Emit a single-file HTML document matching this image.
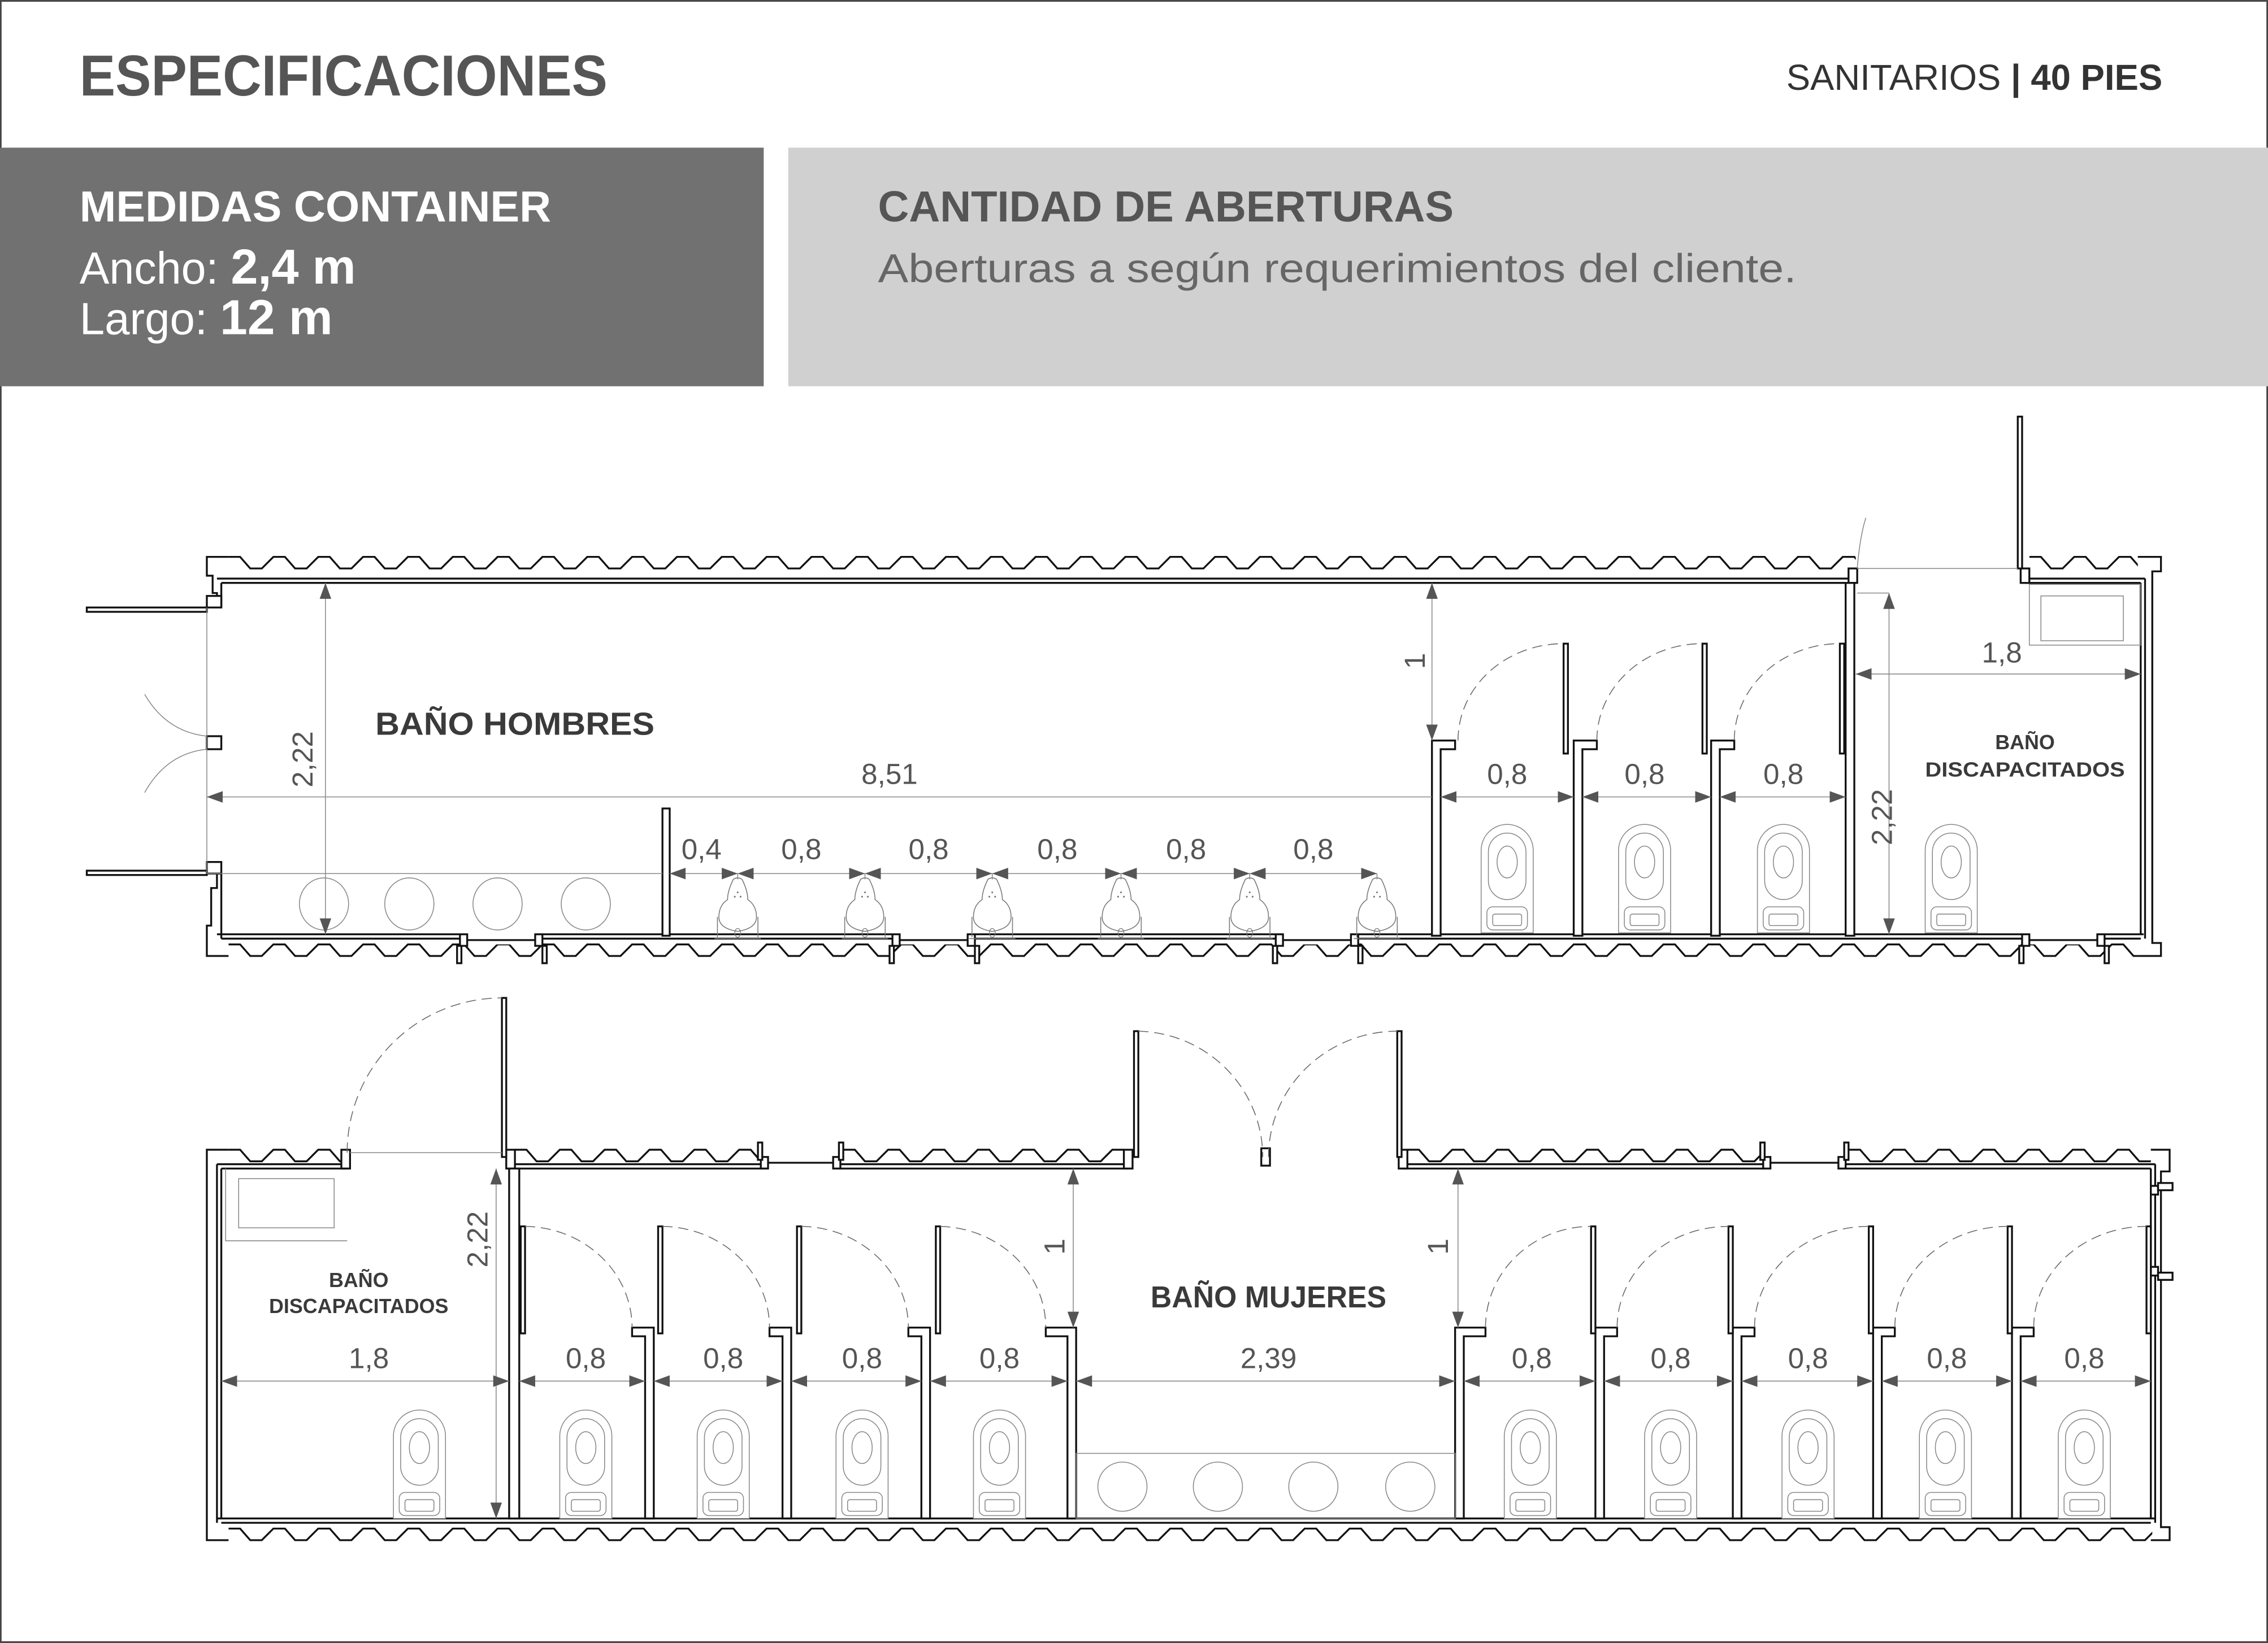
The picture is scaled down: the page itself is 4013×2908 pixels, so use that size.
<!DOCTYPE html>
<html><head><meta charset="utf-8">
<style>
html,body{margin:0;padding:0;background:#fff;}
svg{display:block;}
.w{fill:#fff;stroke:#111;stroke-width:1.3;}
.wl{fill:none;stroke:#111;stroke-width:1.3;}
.t{fill:none;stroke:#888;stroke-width:.6;}
.d{fill:none;stroke:#666;stroke-width:.6;stroke-dasharray:7 4;}
.dim{font-family:"Liberation Sans",sans-serif;font-size:20px;fill:#555;text-anchor:middle;}
.lab{font-family:"Liberation Sans",sans-serif;font-weight:bold;fill:#3a3a3a;text-anchor:middle;}
</style></head>
<body>
<svg width="4013" height="2908" viewBox="0 0 1568 1136" xmlns="http://www.w3.org/2000/svg">
<defs>
<path id="cw" fill="none" stroke="#111" stroke-width="1.3" d="M0 1 h8l7 8h8l8-8 h8l7 8h8l8-8 h8l7 8h8l8-8 h8l7 8h8l8-8 h8l7 8h8l8-8 h8l7 8h8l8-8 h8l7 8h8l8-8 h8l7 8h8l8-8 h8l7 8h8l8-8 h8l7 8h8l8-8 h8l7 8h8l8-8 h8l7 8h8l8-8 h8l7 8h8l8-8 h8l7 8h8l8-8 h8l7 8h8l8-8 h8l7 8h8l8-8 h8l7 8h8l8-8 h8l7 8h8l8-8 h8l7 8h8l8-8 h8l7 8h8l8-8 h8l7 8h8l8-8 h8l7 8h8l8-8 h8l7 8h8l8-8 h8l7 8h8l8-8 h8l7 8h8l8-8 h8l7 8h8l8-8 h8l7 8h8l8-8 h8l7 8h8l8-8 h8l7 8h8l8-8 h8l7 8h8l8-8 h8l7 8h8l8-8 h8l7 8h8l8-8 h8l7 8h8l8-8 h8l7 8h8l8-8 h8l7 8h8l8-8 h8l7 8h8l8-8 h8l7 8h8l8-8 h8l7 8h8l8-8 h8l7 8h8l8-8 h8l7 8h8l8-8 h8l7 8h8l8-8 h8l7 8h8l8-8 h8l7 8h8l8-8 h8l7 8h8l8-8 h8l7 8h8l8-8"/>
<clipPath id="c1"><rect x="158" y="380" width="1125" height="20"/></clipPath>
<clipPath id="c2"><rect x="1403" y="380" width="75" height="20"/></clipPath>
<clipPath id="c3"><rect x="158" y="648" width="1320" height="20"/></clipPath>
<clipPath id="c4"><rect x="158" y="790" width="78" height="20"/></clipPath>
<clipPath id="c5"><rect x="356" y="790" width="168" height="20"/></clipPath>
<clipPath id="c6"><rect x="583" y="790" width="194" height="20"/></clipPath>
<clipPath id="c7"><rect x="973" y="790" width="244" height="20"/></clipPath>
<clipPath id="c8"><rect x="1278" y="790" width="209" height="20"/></clipPath>
<clipPath id="c9"><rect x="158" y="1052" width="1330" height="20"/></clipPath>
<marker id="ar" markerUnits="userSpaceOnUse" markerWidth="12" markerHeight="8" refX="11" refY="4" orient="auto-start-reverse">
<path d="M0 0 L11 4 L0 8z" fill="#555"/>
</marker>
<symbol id="wc" overflow="visible">
<path d="M-18 75 V18 A18 18 0 0 1 18 18 V75 Z" fill="#fff" stroke="#888" stroke-width=".6"/>
<rect x="-13" y="6" width="26" height="46" rx="13" fill="none" stroke="#888" stroke-width=".6"/>
<ellipse cx="0" cy="26" rx="7" ry="11" fill="none" stroke="#888" stroke-width=".6"/>
<rect x="-14" y="57" width="28" height="16" rx="4" fill="none" stroke="#888" stroke-width=".6"/>
<rect x="-10" y="62" width="20" height="8" rx="1.5" fill="none" stroke="#888" stroke-width=".6"/>
</symbol>
<symbol id="ur" overflow="visible">
<path d="M-3 0 Q0 -2 3 0 Q7 8 7 14 Q13 18 13 26 Q13 34 0 36 Q-13 34 -13 26 Q-13 18 -7 14 Q-7 8 -3 0 Z" fill="none" stroke="#777" stroke-width=".6"/>
<path d="M-14 40 V26 M14 40 V26 M-16 41 H16" fill="none" stroke="#777" stroke-width=".6"/>
<ellipse cx="0" cy="37" rx="2" ry="3" fill="none" stroke="#777" stroke-width=".5"/>
<circle cx="0" cy="9" r=".6" fill="#777"/><circle cx="-2" cy="12" r=".6" fill="#777"/><circle cx="2" cy="12" r=".6" fill="#777"/>
</symbol>
</defs>

<rect x="0.5" y="0.5" width="1567" height="1135" fill="#fff" stroke="#444" stroke-width="1.2"/>

<!-- header -->
<text x="55" y="66" font-family="Liberation Sans,sans-serif" font-weight="bold" font-size="40" fill="#555" textLength="365" lengthAdjust="spacingAndGlyphs">ESPECIFICACIONES</text>
<text x="1235" y="62" font-family="Liberation Sans,sans-serif" font-size="25" fill="#333" textLength="260" lengthAdjust="spacingAndGlyphs">SANITARIOS <tspan font-weight="bold">| 40 PIES</tspan></text>

<rect x="0" y="102" width="528" height="165" fill="#717171"/>
<rect x="545" y="102" width="1023" height="165" fill="#d0d0d0"/>
<text x="55" y="153" font-family="Liberation Sans,sans-serif" font-weight="bold" font-size="30" fill="#fff" textLength="326" lengthAdjust="spacingAndGlyphs">MEDIDAS CONTAINER</text>
<text x="55" y="196" font-family="Liberation Sans,sans-serif" font-size="31" fill="#fff" textLength="191" lengthAdjust="spacingAndGlyphs">Ancho: <tspan font-weight="bold" font-size="34">2,4 m</tspan></text>
<text x="55" y="231" font-family="Liberation Sans,sans-serif" font-size="31" fill="#fff" textLength="175" lengthAdjust="spacingAndGlyphs">Largo: <tspan font-weight="bold" font-size="34">12 m</tspan></text>
<text x="607" y="153" font-family="Liberation Sans,sans-serif" font-weight="bold" font-size="30" fill="#555" textLength="398" lengthAdjust="spacingAndGlyphs">CANTIDAD DE ABERTURAS</text>
<text x="607" y="195" font-family="Liberation Sans,sans-serif" font-size="28" fill="#666" textLength="635" lengthAdjust="spacingAndGlyphs">Aberturas a según requerimientos del cliente.</text>

<!-- corrugations -->
<g clip-path="url(#c1)"><use href="#cw" x="158" y="384"/></g>
<g clip-path="url(#c2)"><use href="#cw" x="1403" y="384"/></g>
<g clip-path="url(#c3)"><use href="#cw" x="158" y="652"/></g>
<g clip-path="url(#c4)"><use href="#cw" x="158" y="794"/></g>
<g clip-path="url(#c5)"><use href="#cw" x="356" y="794"/></g>
<g clip-path="url(#c6)"><use href="#cw" x="583" y="794"/></g>
<g clip-path="url(#c7)"><use href="#cw" x="973" y="794"/></g>
<g clip-path="url(#c8)"><use href="#cw" x="1278" y="794"/></g>
<g clip-path="url(#c9)"><use href="#cw" x="158" y="1056"/></g>

<!-- ================= TOP PLAN ================= -->
<path class="wl" d="M150 400 H1283 M153 403 H1276 M150 646 H1482 M153 649 H1480"/>
<path class="wl" d="M1400 400 H1483 M1400 403 H1480 M1480 403 V646 M1483 400 V649"/>
<path class="wl" d="M158 385 H143 V398 H147 V410 H150 V420 M153 403 V420"/>
<rect class="w" x="143" y="412" width="10" height="8"/>
<rect class="w" x="143" y="596" width="10" height="8"/>
<path class="wl" d="M153 604 V649 M150 604 V614 H146 V640 H143 V661 H158"/>
<rect class="w" x="143" y="509" width="10" height="9"/>
<rect class="w" x="60" y="420" width="83" height="3"/>
<rect class="w" x="60" y="602" width="83" height="3"/>
<line class="t" x1="143" y1="420" x2="143" y2="604"/>
<path class="t" d="M143 509 Q115 506 100 480"/><path class="t" d="M143 518 Q115 521 100 548"/>
<path class="wl" d="M1478 385 H1494 V395 H1488 V652 H1494 V661 H1478"/>
<g>
<rect x="318" y="645" width="57" height="8" fill="#fff"/><rect class="w" x="318" y="646" width="5" height="8"/><rect class="w" x="370" y="646" width="5" height="8"/><rect class="w" x="316" y="654" width="3" height="12"/><rect class="w" x="375" y="654" width="3" height="12"/><line class="wl" x1="323" y1="650" x2="370" y2="650"/>
<rect x="617" y="645" width="57" height="8" fill="#fff"/><rect class="w" x="617" y="646" width="5" height="8"/><rect class="w" x="669" y="646" width="5" height="8"/><rect class="w" x="615" y="654" width="3" height="12"/><rect class="w" x="674" y="654" width="3" height="12"/><line class="wl" x1="622" y1="650" x2="669" y2="650"/>
<rect x="882" y="645" width="57" height="8" fill="#fff"/><rect class="w" x="882" y="646" width="5" height="8"/><rect class="w" x="934" y="646" width="5" height="8"/><rect class="w" x="880" y="654" width="3" height="12"/><rect class="w" x="939" y="654" width="3" height="12"/><line class="wl" x1="887" y1="650" x2="934" y2="650"/>
<rect x="1398" y="645" width="57" height="8" fill="#fff"/><rect class="w" x="1398" y="646" width="5" height="8"/><rect class="w" x="1450" y="646" width="5" height="8"/><rect class="w" x="1396" y="654" width="3" height="12"/><rect class="w" x="1455" y="654" width="3" height="12"/><line class="wl" x1="1403" y1="650" x2="1450" y2="650"/>
</g>
<rect class="w" x="1278" y="393" width="6" height="10"/>
<rect class="w" x="1397" y="393" width="6" height="10"/>
<rect class="w" x="1395" y="288" width="3" height="105"/>
<line class="t" x1="1284" y1="393" x2="1395" y2="393"/>
<path class="t" d="M1284 393 Q1286 370 1290 358"/>
<rect class="w" x="1276" y="403" width="6" height="244"/>
<path class="w" d="M990 512 H1006 V518 H996 V647 H990 Z"/>
<path class="w" d="M1088 512 H1104 V518 H1094 V647 H1088 Z"/>
<path class="w" d="M1183 512 H1199 V518 H1189 V647 H1183 Z"/>
<rect class="w" x="1081" y="445" width="3" height="76"/>
<rect class="w" x="1177" y="445" width="3" height="76"/>
<rect class="w" x="1272" y="445" width="3" height="76"/>
<path class="d" d="M1008 512 A73 67 0 0 1 1081 445"/>
<path class="d" d="M1104 512 A73 67 0 0 1 1177 445"/>
<path class="d" d="M1199 512 A73 67 0 0 1 1272 445"/>
<rect class="w" x="458" y="559" width="5" height="88"/>
<ellipse class="t" cx="224" cy="625" rx="17" ry="18"/>
<ellipse class="t" cx="283" cy="625" rx="17" ry="18"/>
<ellipse class="t" cx="344" cy="625" rx="17" ry="18"/>
<ellipse class="t" cx="405" cy="625" rx="17" ry="18"/>
<line class="t" x1="143" y1="604" x2="458" y2="604"/>
<use href="#ur" x="510" y="608"/><use href="#ur" x="598" y="608"/><use href="#ur" x="686" y="608"/>
<use href="#ur" x="775" y="608"/><use href="#ur" x="864" y="608"/><use href="#ur" x="952" y="608"/>
<g class="t"><line x1="510" y1="604" x2="510" y2="608"/><line x1="598" y1="604" x2="598" y2="608"/><line x1="686" y1="604" x2="686" y2="608"/><line x1="775" y1="604" x2="775" y2="608"/><line x1="864" y1="604" x2="864" y2="608"/><line x1="952" y1="604" x2="952" y2="608"/></g>
<use href="#wc" x="1042" y="570"/><use href="#wc" x="1137" y="570"/><use href="#wc" x="1233" y="570"/><use href="#wc" x="1349" y="570"/>
<rect class="t" x="1403" y="404" width="77" height="42"/>
<rect class="t" x="1411" y="412" width="57" height="31"/>
<g class="t">
<line x1="225" y1="403" x2="225" y2="646" marker-start="url(#ar)" marker-end="url(#ar)"/>
<line x1="143" y1="551" x2="990" y2="551" marker-start="url(#ar)"/>
<line x1="990" y1="403" x2="990" y2="512" marker-start="url(#ar)" marker-end="url(#ar)"/>
<line x1="996" y1="551" x2="1088" y2="551" marker-start="url(#ar)" marker-end="url(#ar)"/>
<line x1="1094" y1="551" x2="1183" y2="551" marker-start="url(#ar)" marker-end="url(#ar)"/>
<line x1="1189" y1="551" x2="1276" y2="551" marker-start="url(#ar)" marker-end="url(#ar)"/>
<line x1="1283" y1="466" x2="1480" y2="466" marker-start="url(#ar)" marker-end="url(#ar)"/>
<line x1="1306" y1="410" x2="1306" y2="646" marker-start="url(#ar)" marker-end="url(#ar)"/>
<line x1="1284" y1="410" x2="1306" y2="410"/>
<line x1="463" y1="604" x2="510" y2="604" marker-start="url(#ar)" marker-end="url(#ar)"/>
<line x1="510" y1="604" x2="598" y2="604" marker-start="url(#ar)" marker-end="url(#ar)"/>
<line x1="598" y1="604" x2="686" y2="604" marker-start="url(#ar)" marker-end="url(#ar)"/>
<line x1="686" y1="604" x2="775" y2="604" marker-start="url(#ar)" marker-end="url(#ar)"/>
<line x1="775" y1="604" x2="864" y2="604" marker-start="url(#ar)" marker-end="url(#ar)"/>
<line x1="864" y1="604" x2="952" y2="604" marker-start="url(#ar)" marker-end="url(#ar)"/>
</g>
<text class="dim" transform="translate(216 525) rotate(-90)">2,22</text>
<text class="dim" x="615" y="542">8,51</text>
<text class="dim" transform="translate(985 457) rotate(-90)">1</text>
<text class="dim" x="1042" y="542">0,8</text><text class="dim" x="1137" y="542">0,8</text><text class="dim" x="1233" y="542">0,8</text>
<text class="dim" x="1384" y="458">1,8</text>
<text class="dim" transform="translate(1308 565) rotate(-90)">2,22</text>
<text class="dim" x="485" y="594">0,4</text><text class="dim" x="554" y="594">0,8</text><text class="dim" x="642" y="594">0,8</text><text class="dim" x="731" y="594">0,8</text><text class="dim" x="820" y="594">0,8</text><text class="dim" x="908" y="594">0,8</text>
<text class="lab" x="356" y="508" font-size="22" textLength="193" lengthAdjust="spacingAndGlyphs">BAÑO HOMBRES</text>
<text class="lab" x="1400" y="518" font-size="14">BAÑO</text>
<text class="lab" x="1400" y="537" font-size="14" textLength="138" lengthAdjust="spacingAndGlyphs">DISCAPACITADOS</text>

<!-- ================= BOTTOM PLAN ================= -->
<path class="wl" d="M150 805 H240 M153 808 H240 M350 805 H780 M356 808 H780 M970 805 H1490 M970 808 H1487"/>
<path class="wl" d="M150 1050 H1490 M153 1053 H1487"/>
<path class="wl" d="M158 795 H143 V1065 H158 M150 805 V1053 M153 808 V1050"/>
<path class="wl" d="M1487 795 H1500 V810 H1494 V1056 H1500 V1065 H1487 M1487 808 V1050 M1490 805 V1053"/>
<rect class="w" x="1487" y="820" width="5" height="6"/><rect class="w" x="1487" y="876" width="5" height="6"/><rect class="w" x="1492" y="818" width="10" height="5"/><rect class="w" x="1492" y="880" width="10" height="5"/>
<rect x="527" y="800" width="53" height="10" fill="#fff"/><rect class="w" x="526" y="800" width="5" height="8"/><rect class="w" x="576" y="800" width="5" height="8"/><rect class="w" x="524" y="790" width="3" height="12"/><rect class="w" x="580" y="790" width="3" height="12"/><line class="wl" x1="531" y1="804" x2="576" y2="804"/>
<rect x="1220" y="800" width="56" height="10" fill="#fff"/><rect class="w" x="1219" y="800" width="5" height="8"/><rect class="w" x="1271" y="800" width="5" height="8"/><rect class="w" x="1217" y="790" width="3" height="12"/><rect class="w" x="1275" y="790" width="3" height="12"/><line class="wl" x1="1224" y1="804" x2="1271" y2="804"/>
<rect class="w" x="236" y="795" width="6" height="13"/>
<rect class="w" x="350" y="795" width="6" height="13"/>
<rect class="w" x="347" y="690" width="3" height="110"/>
<line class="t" x1="242" y1="797" x2="347" y2="797"/>
<path class="d" d="M240 797 A107 107 0 0 1 347 690"/>
<rect class="w" x="777" y="795" width="6" height="13"/>
<rect class="w" x="967" y="795" width="6" height="13"/>
<rect class="w" x="784" y="713" width="3" height="87"/>
<rect class="w" x="966" y="713" width="3" height="87"/>
<rect class="w" x="872" y="794" width="6" height="12"/>
<path class="d" d="M787 713 A88 87 0 0 1 873 800"/>
<path class="d" d="M877 800 A89 87 0 0 1 966 713"/>
<rect class="w" x="352" y="808" width="7" height="242"/>
<path class="w" d="M452 918 H437 V924 H446 V1050 H452 Z"/>
<path class="w" d="M547 918 H532 V924 H541 V1050 H547 Z"/>
<path class="w" d="M643 918 H628 V924 H637 V1050 H643 Z"/>
<path class="w" d="M744 918 H723 V924 H738 V1050 H744 Z"/>
<path class="w" d="M1006 918 H1027 V924 H1012 V1050 H1006 Z"/>
<path class="w" d="M1103 918 H1118 V924 H1109 V1050 H1103 Z"/>
<path class="w" d="M1198 918 H1213 V924 H1204 V1050 H1198 Z"/>
<path class="w" d="M1295 918 H1310 V924 H1301 V1050 H1295 Z"/>
<path class="w" d="M1391 918 H1406 V924 H1397 V1050 H1391 Z"/>
<rect class="w" x="360" y="848" width="3" height="74"/><rect class="w" x="455" y="848" width="3" height="74"/><rect class="w" x="551" y="848" width="3" height="74"/><rect class="w" x="647" y="848" width="3" height="74"/>
<path class="d" d="M363 848 A75 70 0 0 1 437 918"/>
<path class="d" d="M458 848 A75 70 0 0 1 532 918"/>
<path class="d" d="M554 848 A75 70 0 0 1 628 918"/>
<path class="d" d="M650 848 A75 70 0 0 1 723 918"/>
<rect class="w" x="1100" y="848" width="3" height="74"/><rect class="w" x="1195" y="848" width="3" height="74"/><rect class="w" x="1292" y="848" width="3" height="74"/><rect class="w" x="1388" y="848" width="3" height="74"/><rect class="w" x="1484" y="848" width="3" height="74"/>
<path class="d" d="M1027 918 A73 70 0 0 1 1100 848"/>
<path class="d" d="M1118 918 A77 70 0 0 1 1195 848"/>
<path class="d" d="M1213 918 A79 70 0 0 1 1292 848"/>
<path class="d" d="M1310 918 A78 70 0 0 1 1388 848"/>
<path class="d" d="M1406 918 A78 70 0 0 1 1484 848"/>
<rect class="t" x="744" y="1005" width="262" height="45"/>
<ellipse class="t" cx="776" cy="1028" rx="17" ry="17"/><ellipse class="t" cx="842" cy="1028" rx="17" ry="17"/><ellipse class="t" cx="908" cy="1028" rx="17" ry="17"/><ellipse class="t" cx="975" cy="1028" rx="17" ry="17"/>
<path class="t" d="M156 808 V858 H240"/>
<rect class="t" x="165" y="815" width="66" height="34"/>
<use href="#wc" x="290" y="975"/><use href="#wc" x="405" y="975"/><use href="#wc" x="500" y="975"/><use href="#wc" x="596" y="975"/><use href="#wc" x="691" y="975"/>
<use href="#wc" x="1058" y="975"/><use href="#wc" x="1155" y="975"/><use href="#wc" x="1250" y="975"/><use href="#wc" x="1345" y="975"/><use href="#wc" x="1441" y="975"/>
<g class="t">
<line x1="343" y1="808" x2="343" y2="1050" marker-start="url(#ar)" marker-end="url(#ar)"/>
<line x1="153" y1="955" x2="352" y2="955" marker-start="url(#ar)" marker-end="url(#ar)"/>
<line x1="359" y1="955" x2="446" y2="955" marker-start="url(#ar)" marker-end="url(#ar)"/>
<line x1="452" y1="955" x2="541" y2="955" marker-start="url(#ar)" marker-end="url(#ar)"/>
<line x1="547" y1="955" x2="637" y2="955" marker-start="url(#ar)" marker-end="url(#ar)"/>
<line x1="643" y1="955" x2="738" y2="955" marker-start="url(#ar)" marker-end="url(#ar)"/>
<line x1="744" y1="955" x2="1006" y2="955" marker-start="url(#ar)" marker-end="url(#ar)"/>
<line x1="1012" y1="955" x2="1103" y2="955" marker-start="url(#ar)" marker-end="url(#ar)"/>
<line x1="1109" y1="955" x2="1198" y2="955" marker-start="url(#ar)" marker-end="url(#ar)"/>
<line x1="1204" y1="955" x2="1295" y2="955" marker-start="url(#ar)" marker-end="url(#ar)"/>
<line x1="1301" y1="955" x2="1391" y2="955" marker-start="url(#ar)" marker-end="url(#ar)"/>
<line x1="1397" y1="955" x2="1487" y2="955" marker-start="url(#ar)" marker-end="url(#ar)"/>
<line x1="742" y1="808" x2="742" y2="918" marker-start="url(#ar)" marker-end="url(#ar)"/>
<line x1="1008" y1="808" x2="1008" y2="918" marker-start="url(#ar)" marker-end="url(#ar)"/>
</g>
<text class="dim" transform="translate(337 857) rotate(-90)">2,22</text>
<text class="dim" transform="translate(736 862) rotate(-90)">1</text>
<text class="dim" transform="translate(1001 862) rotate(-90)">1</text>
<text class="dim" x="255" y="946">1,8</text>
<text class="dim" x="405" y="946">0,8</text><text class="dim" x="500" y="946">0,8</text><text class="dim" x="596" y="946">0,8</text><text class="dim" x="691" y="946">0,8</text>
<text class="dim" x="877" y="946">2,39</text>
<text class="dim" x="1059" y="946">0,8</text><text class="dim" x="1155" y="946">0,8</text><text class="dim" x="1250" y="946">0,8</text><text class="dim" x="1346" y="946">0,8</text><text class="dim" x="1441" y="946">0,8</text>
<text class="lab" x="877" y="904" font-size="21" textLength="163" lengthAdjust="spacingAndGlyphs">BAÑO MUJERES</text>
<text class="lab" x="248" y="890" font-size="14">BAÑO</text>
<text class="lab" x="248" y="908" font-size="14" textLength="124" lengthAdjust="spacingAndGlyphs">DISCAPACITADOS</text>
</svg>
</body></html>
